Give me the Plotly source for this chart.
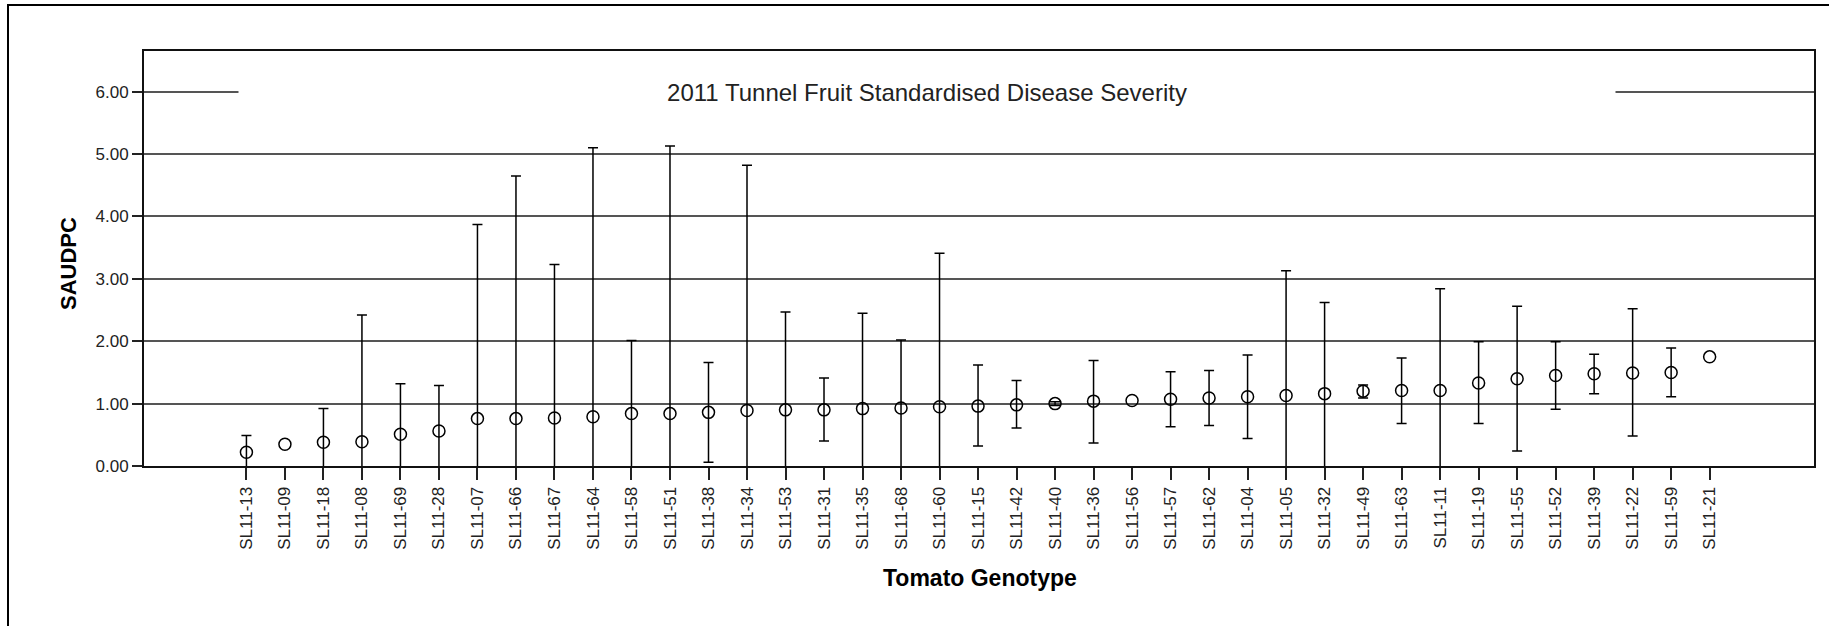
import plotly.graph_objects as go

genotypes = ["SL11-13", "SL11-09", "SL11-18", "SL11-08", "SL11-69", "SL11-28", "SL11-07",
             "SL11-66", "SL11-67", "SL11-64", "SL11-58", "SL11-51", "SL11-38", "SL11-34",
             "SL11-53", "SL11-31", "SL11-35", "SL11-68", "SL11-60", "SL11-15", "SL11-42",
             "SL11-40", "SL11-36", "SL11-56", "SL11-57", "SL11-62", "SL11-04", "SL11-05",
             "SL11-32", "SL11-49", "SL11-63", "SL11-11", "SL11-19", "SL11-55", "SL11-52",
             "SL11-39", "SL11-22", "SL11-59", "SL11-21"]

mean_saudpc = [0.22, 0.35, 0.38, 0.39, 0.51, 0.56, 0.76,
               0.76, 0.77, 0.79, 0.84, 0.84, 0.86, 0.89,
               0.90, 0.90, 0.92, 0.93, 0.95, 0.96, 0.98,
               1.00, 1.04, 1.05, 1.07, 1.09, 1.11, 1.13,
               1.16, 1.20, 1.21, 1.21, 1.33, 1.40, 1.45,
               1.48, 1.49, 1.50, 1.75]

ci_upper = [0.49, None, 0.92, 2.42, 1.32, 1.29, 3.87,
            4.65, 3.23, 5.10, 2.01, 5.13, 1.66, 4.82,
            2.47, 1.41, 2.45, 2.02, 3.41, 1.62, 1.37,
            1.03, 1.69, None, 1.51, 1.53, 1.78, 3.13,
            2.62, 1.30, 1.73, 2.84, 1.99, 2.56, 1.99,
            1.79, 2.52, 1.89, None]

ci_lower = [-0.05, None, -0.16, -1.64, -0.30, -0.17, -2.35,
            -3.13, -1.69, -3.52, -0.33, -3.45, 0.06, -3.04,
            -0.67, 0.40, -0.61, -0.16, -1.51, 0.32, 0.61,
            0.97, 0.37, None, 0.63, 0.65, 0.44, -0.87,
            -0.30, 1.09, 0.68, -0.42, 0.68, 0.24, 0.91,
            1.16, 0.48, 1.11, None]

y_ticks = [0, 1, 2, 3, 4, 5, 6]
y_ticktext = ["0.00", "1.00", "2.00", "3.00", "4.00", "5.00", "6.00"]

# points that have a confidence interval
has_ci = [u is not None for u in ci_upper]
ci_x = [g for g, h in zip(genotypes, has_ci) if h]
ci_m = [m for m, h in zip(mean_saudpc, has_ci) if h]
err_plus = [u - m for u, m, h in zip(ci_upper, mean_saudpc, has_ci) if h]
err_minus = [m - l for l, m, h in zip(ci_lower, mean_saudpc, has_ci) if h]

FONT = "Arial, 'Liberation Sans', sans-serif"

fig = go.Figure()
fig.add_trace(go.Scatter(
    x=ci_x, y=ci_m, mode="markers",
    marker=dict(size=1, color="rgba(0,0,0,0)"),
    error_y=dict(type="data", symmetric=False, array=err_plus, arrayminus=err_minus,
                 color="black", thickness=1.5, width=5),
    showlegend=False, hoverinfo="skip",
))
fig.add_trace(go.Scatter(
    x=genotypes, y=mean_saudpc, mode="markers",
    marker=dict(symbol="circle-open", size=12, color="black", line=dict(width=1.5, color="black")),
    showlegend=False,
))

W, H = 1829, 626
L, R, T, B = 144, 15, 51, 160
pw, ph = W - L - R, H - T - B

def px_x(p):
    return (p - L) / pw

def px_y(p):
    return (H - B - p) / ph

fig.update_layout(
    width=W, height=H,
    margin=dict(l=L, r=R, t=T, b=B, pad=0),
    paper_bgcolor="white", plot_bgcolor="white",
    font=dict(family=FONT, color="#222"),
    xaxis=dict(
        type="category", categoryorder="array", categoryarray=genotypes,
        range=[-2.66, 40.71],
        showgrid=False, zeroline=False,
        showline=True, mirror=True, linecolor="#111", linewidth=2,
        ticks="outside", ticklen=12, tickwidth=2, tickcolor="#222",
        tickangle=-90, tickfont=dict(size=17, family=FONT, color="#222"),
    ),
    yaxis=dict(
        range=[0, 6.653], tickvals=y_ticks, ticktext=y_ticktext,
        showgrid=True, gridcolor="#555", gridwidth=2, zeroline=False,
        showline=True, mirror=True, linecolor="#111", linewidth=2,
        ticks="outside", ticklen=10, tickwidth=2, tickcolor="#222",
        tickfont=dict(size=17, family=FONT, color="#222"),
    ),
    shapes=[dict(type="rect", xref="paper", yref="paper",
                 x0=px_x(8), x1=px_x(1845), y0=px_y(645), y1=px_y(5),
                 line=dict(color="black", width=2), fillcolor="rgba(0,0,0,0)", layer="below")],
    annotations=[
        dict(text="2011 Tunnel Fruit Standardised Disease Severity", xref="paper", yref="y",
             x=px_x(927), y=6, xanchor="center", yanchor="middle", showarrow=False,
             width=1376, height=30, bgcolor="white", borderpad=0,
             font=dict(size=24, family=FONT, color="#222")),
        dict(text="<b>Tomato Genotype</b>", xref="paper", yref="paper",
             x=px_x(980), y=px_y(578), xanchor="center", yanchor="middle", showarrow=False,
             font=dict(size=23, family=FONT, color="black")),
        dict(text="<b>SAUDPC</b>", xref="paper", yref="paper", textangle=-90,
             x=px_x(68), y=px_y(264), xanchor="center", yanchor="middle", showarrow=False,
             font=dict(size=22, family=FONT, color="black")),
    ],
)

fig.write_html("out.html")
